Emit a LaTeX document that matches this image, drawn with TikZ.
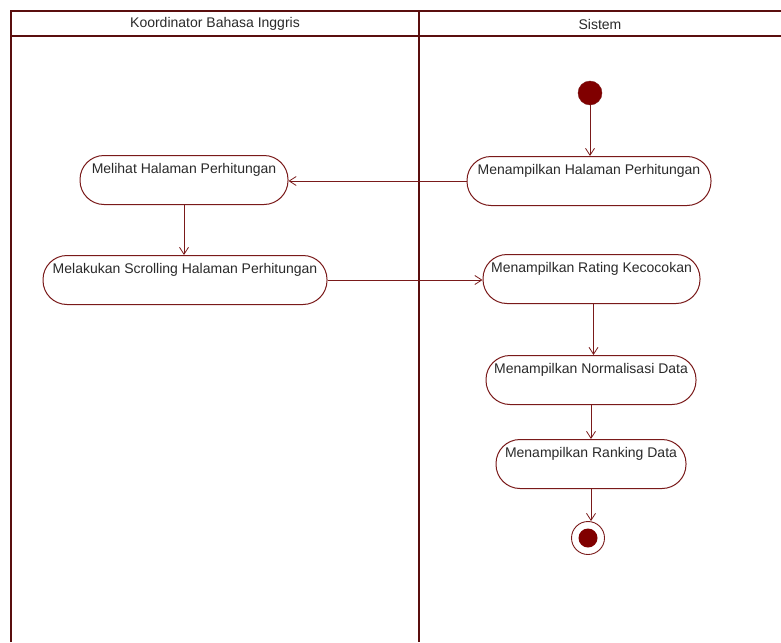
\documentclass[tikz,border=0pt]{standalone}
\usepackage{fontspec}
\setmainfont{Liberation Sans}
\usetikzlibrary{arrows.meta}
\definecolor{frame}{HTML}{5A0E0E}
\definecolor{edge}{HTML}{7A1A1A}
\definecolor{dot}{HTML}{800000}
\definecolor{txt}{HTML}{2A2A2A}
\tikzset{
  act/.style={draw=edge, line width=1pt, rounded corners=24pt, minimum height=49pt,
    inner xsep=4pt, inner ysep=4pt, text height=14pt, text depth=27pt,
    font=\fontsize{14pt}{16pt}\selectfont, text=txt},
  flow/.style={draw=edge, line width=0.9pt, -{Straight Barb[length=7pt,width=9pt,line width=0.8pt]}},
  lane/.style={draw=frame, line width=2.6pt},
  hdr/.style={font=\fontsize{14pt}{16pt}\selectfont, text=txt},
}
\begin{document}
\begin{tikzpicture}[x=1pt,y=-1pt]
\useasboundingbox (0,0) rectangle (781,642);
\fill[white] (0,0) rectangle (781,642);
% swimlanes
\draw[lane] (11,642) -- (11,11) -- (781,11);
\draw[lane] (11,36) -- (781,36);
\draw[lane] (419,11) -- (419,642);
\node[hdr] (h1) at (215,24) {Koordinator Bahasa Inggris};
\node[hdr] (h2) at (600,24) {Sistem};
% start
\node[circle, fill=dot, draw=edge, minimum size=24pt, inner sep=0pt] (start) at (590,93) {};
% activities
\node[act, minimum width=244pt] (a1) at (589,181) {Menampilkan Halaman Perhitungan};
\node[act, minimum width=208pt] (b1) at (184,180) {Melihat Halaman Perhitungan};
\node[act, minimum width=284pt] (b2) at (185,280) {Melakukan Scrolling Halaman Perhitungan};
\node[act, minimum width=217pt] (a2) at (591.5,279) {Menampilkan Rating Kecocokan};
\node[act, minimum width=210pt] (a3) at (591,380) {Menampilkan Normalisasi Data};
\node[act, minimum width=190pt] (a4) at (591,464) {Menampilkan Ranking Data};
% end
\node[circle, draw=edge, line width=0.9pt, minimum size=33pt, inner sep=0pt] (end) at (588,538) {};
\node[circle, fill=dot, minimum size=19pt, inner sep=0pt] (endin) at (end.center) {};
% flows
\draw[flow] (start.south) -- (start.south |- a1.north);
\draw[flow] (a1.west) -- (a1.west -| b1.east);
\draw[flow] (b1.south) -- (b1.south |- b2.north);
\draw[flow] (b2.east) -- (b2.east -| a2.west);
\draw[flow] ([xshift=2pt]a2.south) -- ([xshift=2pt]a2.south |- a3.north);
\draw[flow] (a3.south) -- (a3.south |- a4.north);
\draw[flow] (a4.south) -- (a4.south |- end.north);
\end{tikzpicture}
\end{document}
